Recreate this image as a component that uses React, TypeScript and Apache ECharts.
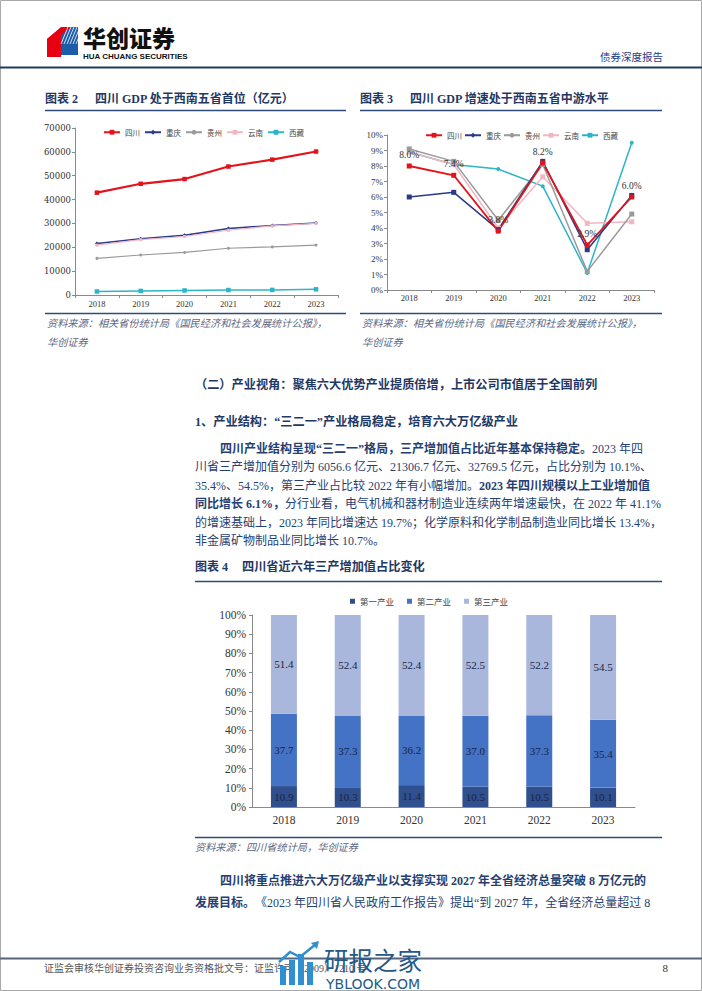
import React, { useEffect, useRef } from 'react';
import * as echarts from 'echarts';

// ---------- data ----------
const years = ['2018', '2019', '2020', '2021', '2022', '2023'];
const provinces = ['四川', '重庆', '贵州', '云南', '西藏'];

// GDP (亿元)
const gdpSichuan = [42902, 46616, 48599, 53851, 56750, 60133];
const gdpChongqing = [21589, 23606, 25003, 27894, 29129, 30146];
const gdpGuizhou = [15353, 16769, 17827, 19586, 20165, 20913];
const gdpYunnan = [20881, 23224, 24522, 27147, 28954, 30021];
const gdpXizang = [1478, 1698, 1903, 2080, 2133, 2393];

// GDP growth (%)
const growthSichuan = [8.0, 7.4, 3.8, 8.2, 2.9, 6.0];
const growthChongqing = [6.0, 6.3, 3.9, 8.3, 2.6, 6.1];
const growthGuizhou = [9.1, 8.3, 4.5, 8.1, 1.2, 4.9];
const growthYunnan = [8.9, 8.1, 4.0, 7.3, 4.3, 4.4];
const growthXizang = [8.9, 8.1, 7.8, 6.7, 1.1, 9.5];

// industry shares (%)
const industryNames = ['第一产业', '第二产业', '第三产业'];
const primaryShare = [10.9, 10.3, 11.4, 10.5, 10.5, 10.1];
const secondaryShare = [37.7, 37.3, 36.2, 37.0, 37.3, 35.4];
const tertiaryShare = [51.4, 52.4, 52.4, 52.5, 52.2, 54.5];

// ---------- styles ----------
const SERIF = "'Liberation Serif','Times New Roman','Noto Sans CJK SC',serif";
const CJK = "'Noto Sans CJK SC','Liberation Serif',sans-serif";
const NAVY = '#1F3864';
const BODY = '#263f72';
const SRC = '#5a6884';
const AXIS = '#8a8a8a';

const C_SC = '#E3131B';
const C_CQ = '#2B3A86';
const C_GZ = '#9A9A9A';
const C_YN = '#F2B6C3';
const C_XZ = '#2DB5C7';

function txt(x: number, y: number, text: string, o: any = {}) {
  return {
    type: 'text',
    x,
    y,
    silent: true,
    z: o.z ?? 10,
    style: {
      text,
      fill: o.fill ?? BODY,
      fontSize: o.size ?? 12,
      fontFamily: o.family ?? SERIF,
      fontWeight: o.weight ?? 'normal',
      fontStyle: o.fstyle ?? 'normal',
      align: o.align ?? 'left',
      verticalAlign: 'middle',
      rich: o.rich,
    },
  };
}

function hline(x1: number, x2: number, y: number, stroke: string, w: number) {
  return { type: 'line', silent: true, shape: { x1, y1: y, x2, y2: y }, style: { stroke, lineWidth: w } };
}

const bodyRich = {
  b: { fontWeight: 'bold', fontSize: 12, fontFamily: SERIF, fill: BODY, color: BODY },
  n: { fontWeight: 'normal', fontSize: 12, fontFamily: SERIF, fill: BODY, color: BODY },
};

function buildOption(): any {
  const axisLine = { show: true, lineStyle: { color: AXIS, width: 1 } };
  const axisTick = { show: true, length: 3, lineStyle: { color: AXIS } };

  const lineSeries = (
    name: string, data: number[], grid: number, color: string, width: number,
    symbol: string, size: number, extra: any = {}
  ) => ({
    type: 'line', name, data, xAxisIndex: grid, yAxisIndex: grid,
    symbol, symbolSize: size, showSymbol: true,
    lineStyle: { color, width }, itemStyle: { color },
    ...extra,
  });

  const barLabel = {
    show: true, position: 'inside', fontSize: 11, fontFamily: SERIF, color: '#1b2541',
    formatter: (p: any) => Number(p.value).toFixed(1),
  };

  const graphic: any[] = [
    // page frame
    { type: 'rect', silent: true, shape: { x: 0.5, y: 0.5, width: 701, height: 990 }, style: { fill: 'none', stroke: '#a8a8a8', lineWidth: 1 } },
    // logo cube
    { type: 'polygon', silent: true, shape: { points: [[47, 39], [61, 28], [61, 57], [47, 57]] }, style: { fill: '#E60012' } },
    { type: 'polygon', silent: true, shape: { points: [[61, 27], [78, 27], [78, 55], [61, 55]] }, style: { fill: '#1C5DAA' } },
    { type: 'polygon', silent: true, shape: { points: [[47, 39], [61, 27], [71, 27], [57, 39]] }, style: { fill: '#E60012' } },
    ...[0, 1, 2, 3, 4, 5].map((i) => ({
      type: 'line', silent: true,
      shape: { x1: 61 + i * 3, y1: 44, x2: 68 + i * 3, y2: 27 },
      style: { stroke: '#ffffff', lineWidth: 0.8 },
    })),
    txt(83, 36.5, '华创证券', { size: 23, weight: 900, family: CJK, fill: '#111' }),
    txt(83, 56.5, 'HUA CHUANG SECURITIES', { size: 8, weight: 'bold', family: "'Liberation Sans',Arial,sans-serif", fill: '#111' }),
    txt(600, 56, '债券深度报告', { size: 10.5, family: CJK, fill: '#1F3C88' }),
    hline(0, 702, 67.5, NAVY, 2),

    // chart 2 & 3 titles
    txt(45, 98.5, '图表 2', { size: 12, weight: 'bold', fill: NAVY }),
    txt(95, 98.5, '四川 GDP 处于西南五省首位（亿元）', { size: 12, weight: 'bold', fill: NAVY }),
    hline(45, 346, 110.5, '#2F4B7A', 1.5),
    txt(360, 98.5, '图表 3', { size: 12, weight: 'bold', fill: NAVY }),
    txt(410, 98.5, '四川 GDP 增速处于西南五省中游水平', { size: 12, weight: 'bold', fill: NAVY }),
    hline(360, 662, 110.5, '#2F4B7A', 1.5),

    hline(45, 346, 313.5, '#2F4B7A', 1.5),
    hline(360, 662, 313.5, '#2F4B7A', 1.5),
    txt(47, 323.5, '资料来源：相关省份统计局《国民经济和社会发展统计公报》，', { size: 10.2, fstyle: 'italic', fill: SRC }),
    txt(47, 342, '华创证券', { size: 10.2, fstyle: 'italic', fill: SRC }),
    txt(362, 323.5, '资料来源：相关省份统计局《国民经济和社会发展统计公报》，', { size: 10.2, fstyle: 'italic', fill: SRC }),
    txt(362, 342, '华创证券', { size: 10.2, fstyle: 'italic', fill: SRC }),

    // headings
    txt(195, 384.5, '（二）产业视角：聚焦六大优势产业提质倍增，上市公司市值居于全国前列', { size: 12.2, weight: 'bold', fill: NAVY }),
    txt(195, 422, '1、产业结构：“三二一”产业格局稳定，培育六大万亿级产业', { size: 12.2, weight: 'bold', fill: NAVY }),

    // paragraph 1
    txt(220, 448.5, '{b|四川产业结构呈现“三二一”格局，三产增加值占比近年基本保持稳定。}{n|2023 年四}', { rich: bodyRich }),
    txt(195, 467, '川省三产增加值分别为 6056.6 亿元、21306.7 亿元、32769.5 亿元，占比分别为 10.1%、', { size: 12 }),
    txt(195, 485.5, '{n|35.4%、54.5%，第三产业占比较 2022 年有小幅增加。}{b|2023 年四川规模以上工业增加值}', { rich: bodyRich }),
    txt(195, 504, '{b|同比增长 6.1%，}{n|分行业看，电气机械和器材制造业连续两年增速最快，在 2022 年 41.1%}', { rich: bodyRich }),
    txt(195, 522.5, '的增速基础上，2023 年同比增速达 19.7%；化学原料和化学制品制造业同比增长 13.4%，', { size: 12 }),
    txt(195, 541, '非金属矿物制品业同比增长 10.7%。', { size: 12 }),

    // chart 4 title
    txt(195, 567, '图表 4', { size: 12, weight: 'bold', fill: NAVY }),
    txt(242, 567, '四川省近六年三产增加值占比变化', { size: 12.2, weight: 'bold', fill: NAVY }),
    hline(195, 662, 581.5, '#2F4B7A', 1.5),
    hline(195, 662, 837.5, '#2F4B7A', 1.5),
    txt(195, 847.5, '资料来源：四川省统计局，华创证券', { size: 10.2, fstyle: 'italic', fill: SRC }),

    // paragraph 2
    txt(220, 880.5, '四川将重点推进六大万亿级产业以支撑实现 2027 年全省经济总量突破 8 万亿元的', { size: 12, weight: 'bold' }),
    txt(195, 902.5, '{b|发展目标。}{n|《2023 年四川省人民政府工作报告》提出“到 2027 年，全省经济总量超过 8}', { rich: bodyRich }),

    // footer
    hline(0, 702, 958.5, '#56647e', 2),
    txt(44, 968, '证监会审核华创证券投资咨询业务资格批文号：证监许可（2009）1210 号', { size: 10, fill: '#555' }),
    txt(668, 968, '8', { size: 11, fill: '#333', align: 'right' }),

    // watermark
    { type: 'rect', silent: true, z: 11, shape: { x: 280, y: 966, width: 6, height: 19 }, style: { fill: '#2f8fd0' } },
    { type: 'rect', silent: true, z: 11, shape: { x: 289, y: 960, width: 6, height: 25 }, style: { fill: '#2f8fd0' } },
    { type: 'rect', silent: true, z: 11, shape: { x: 298, y: 954, width: 6, height: 31 }, style: { fill: '#2f8fd0' } },
    { type: 'rect', silent: true, z: 11, shape: { x: 307, y: 962, width: 6, height: 23 }, style: { fill: '#2f8fd0' } },
    { type: 'polyline', silent: true, z: 11, shape: { points: [[279, 962], [290, 952], [300, 957], [316, 944]] }, style: { stroke: '#2f8fd0', lineWidth: 2.5, fill: 'none' } },
    { type: 'polygon', silent: true, z: 11, shape: { points: [[311, 943], [319, 941], [317, 949]] }, style: { fill: '#2f8fd0' } },
    txt(324, 959.5, '研报之家', { size: 24.5, family: CJK, fill: '#25598a', z: 11 }),
    txt(326, 984, 'YBLOOK.COM', { size: 14, family: "'DejaVu Sans',sans-serif", fill: '#25598a', z: 11 }),
  ];

  return {
    animation: false,
    backgroundColor: '#ffffff',
    textStyle: { fontFamily: SERIF },
    grid: [
      { left: 75, top: 128, width: 263, height: 167 },
      { left: 387, top: 135, width: 267, height: 155 },
      { left: 252, top: 615, width: 383, height: 192 },
    ],
    legend: [
      {
        left: 98, top: 123.5, itemWidth: 16, itemHeight: 6, itemGap: 4, selectedMode: false,
        data: provinces, textStyle: { fontSize: 7.5, color: '#444', fontFamily: CJK },
      },
      {
        left: 420, top: 126.5, itemWidth: 16, itemHeight: 6, itemGap: 2, selectedMode: false,
        data: provinces, textStyle: { fontSize: 7.5, color: '#444', fontFamily: CJK },
      },
      {
        left: 345, top: 592, itemWidth: 5, itemHeight: 5, itemGap: 13, icon: 'rect', selectedMode: false,
        data: industryNames, textStyle: { fontSize: 8.5, color: '#444', fontFamily: CJK },
      },
    ],
    xAxis: [
      {
        gridIndex: 0, type: 'category', data: years, boundaryGap: true, axisLine, axisTick,
        axisLabel: { fontSize: 8.5, color: '#333', fontFamily: SERIF, margin: 4.5 },
      },
      {
        gridIndex: 1, type: 'category', data: years, boundaryGap: true, axisLine, axisTick,
        axisLabel: { fontSize: 8.5, color: '#333', fontFamily: SERIF, margin: 4 },
      },
      {
        gridIndex: 2, type: 'category', data: years, boundaryGap: true, axisLine, axisTick: { show: false },
        axisLabel: { fontSize: 11.5, color: '#333', fontFamily: SERIF, margin: 7 },
      },
    ],
    yAxis: [
      {
        gridIndex: 0, type: 'value', min: 0, max: 70000, interval: 10000, axisLine, axisTick,
        splitLine: { show: false },
        axisLabel: {
          fontSize: 8.5, color: '#333', fontFamily: "'DejaVu Serif',serif", margin: 4,
          formatter: (v: number) => String(v),
        },
      },
      {
        gridIndex: 1, type: 'value', min: 0, max: 10, interval: 1, axisLine, axisTick,
        splitLine: { show: false },
        axisLabel: { fontSize: 9, color: '#333', fontFamily: SERIF, margin: 4, formatter: '{value}%' },
      },
      {
        gridIndex: 2, type: 'value', min: 0, max: 100, interval: 10, axisLine, axisTick,
        splitLine: { show: false },
        axisLabel: { fontSize: 11.5, color: '#333', fontFamily: SERIF, margin: 6, formatter: '{value}%' },
      },
    ],
    series: [
      // chart 2
      lineSeries('四川', gdpSichuan, 0, C_SC, 2.2, 'rect', 4.5),
      lineSeries('重庆', gdpChongqing, 0, C_CQ, 1.5, 'diamond', 4),
      lineSeries('贵州', gdpGuizhou, 0, C_GZ, 1.2, 'circle', 3),
      lineSeries('云南', gdpYunnan, 0, C_YN, 1.2, 'rect', 3),
      lineSeries('西藏', gdpXizang, 0, C_XZ, 1.5, 'rect', 4.5),
      // chart 3
      lineSeries('西藏', growthXizang, 1, C_XZ, 1.5, 'circle', 4),
      lineSeries('云南', growthYunnan, 1, C_YN, 1.5, 'rect', 5),
      lineSeries('贵州', growthGuizhou, 1, C_GZ, 1.5, 'rect', 5),
      lineSeries('重庆', growthChongqing, 1, C_CQ, 1.5, 'rect', 5),
      lineSeries('四川', growthSichuan, 1, C_SC, 1.8, 'rect', 5, {
        label: {
          show: true, position: 'top', distance: 4, fontSize: 9.5, color: '#333', fontFamily: SERIF,
          formatter: (p: any) => Number(p.value).toFixed(1) + '%',
        },
      }),
      // chart 4
      {
        type: 'bar', name: '第一产业', data: primaryShare, xAxisIndex: 2, yAxisIndex: 2,
        stack: 'share', barWidth: 26, itemStyle: { color: '#2F4F8F' }, label: barLabel,
      },
      {
        type: 'bar', name: '第二产业', data: secondaryShare, xAxisIndex: 2, yAxisIndex: 2,
        stack: 'share', barWidth: 26, itemStyle: { color: '#4472C4' }, label: barLabel,
      },
      {
        type: 'bar', name: '第三产业', data: tertiaryShare, xAxisIndex: 2, yAxisIndex: 2,
        stack: 'share', barWidth: 26, itemStyle: { color: '#A9B7DC' }, label: barLabel,
      },
    ],
    graphic,
  };
}

export default function App() {
  const ref = useRef<HTMLDivElement>(null);
  useEffect(() => {
    if (!ref.current) return;
    const chart = echarts.init(ref.current, null, { renderer: 'svg' });
    chart.setOption(buildOption());
    return () => chart.dispose();
  }, []);
  return (
    <div
      ref={ref}
      style={{ position: 'absolute', left: 0, top: 0, width: 702, height: 991, background: '#fff' }}
    />
  );
}
